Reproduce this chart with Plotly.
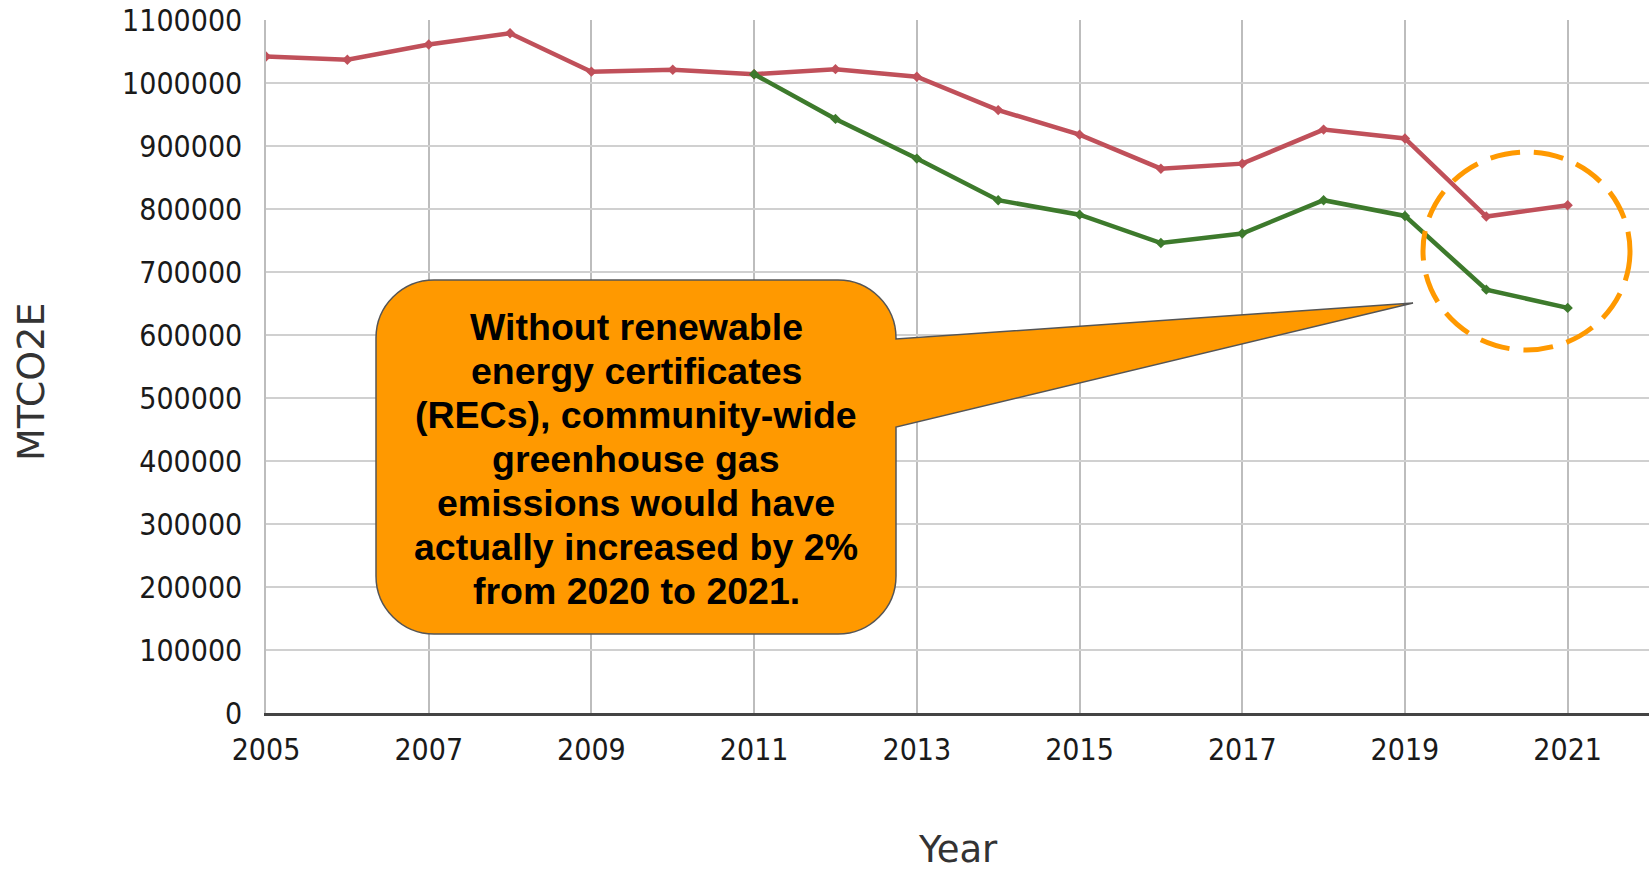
import plotly.graph_objects as go

# ---- data ----
years = list(range(2005, 2022))
with_recs = [1042000, 1037000, 1061000, 1079000, 1018000, 1021000, 1014000, 1022000,
             1010000, 957000, 918000, 864000, 872000, 926000, 912000, 788000, 806000]
without_recs = [None, None, None, None, None, None, 1014000, 943000,
                880000, 814000, 791000, 746000, 761000, 814000, 789000, 672000, 643000]
x_ticks = list(range(2005, 2022, 2))
y_ticks = list(range(0, 1100001, 100000))
callout_lines = ["Without renewable", "energy certificates", "(RECs), community-wide",
                 "greenhouse gas", "emissions would have", "actually increased by 2%",
                 "from 2020 to 2021."]

W, H = 1652, 873
L, R, T, B = 266, 1649, 20, 713
TICKFONT = "DejaVu Sans Condensed, DejaVu Sans"


def xp(px):
    return (px - L) / (R - L)


def yp(py):
    return (B - py) / (B - T)


fig = go.Figure()
fig.add_trace(go.Scatter(x=years, y=with_recs, mode="lines+markers",
                         line=dict(color="#c0505a", width=4.5),
                         marker=dict(size=8, color="#c0505a", symbol="diamond"),
                         showlegend=False))
fig.add_trace(go.Scatter(x=years, y=without_recs, mode="lines+markers",
                         line=dict(color="#3d7a2c", width=4.5),
                         marker=dict(size=8, color="#3d7a2c", symbol="diamond"),
                         showlegend=False))

# callout bubble with tail
bl, br, bt, bb, r = 376, 896, 280, 634, 58
k = 0.552 * r
tail_top, tail_bot, tipx, tipy = 339, 427, 1413, 303
pts = [
    ("M", [(bl + r, bt)]),
    ("L", [(br - r, bt)]),
    ("C", [(br - r + k, bt), (br, bt + r - k), (br, bt + r)]),
    ("L", [(br, tail_top)]),
    ("L", [(tipx, tipy)]),
    ("L", [(br, tail_bot)]),
    ("L", [(br, bb - r)]),
    ("C", [(br, bb - r + k), (br - r + k, bb), (br - r, bb)]),
    ("L", [(bl + r, bb)]),
    ("C", [(bl + r - k, bb), (bl, bb - r + k), (bl, bb - r)]),
    ("L", [(bl, bt + r)]),
    ("C", [(bl, bt + r - k), (bl + r - k, bt), (bl + r, bt)]),
]
path = ""
for cmd, ps in pts:
    path += cmd + " ".join(f"{xp(a):.5f},{yp(b):.5f}" for a, b in ps) + " "
path += "Z"
fig.add_shape(type="path", path=path, xref="paper", yref="paper",
              fillcolor="#ff9900", line=dict(color="#555555", width=1.5), layer="above")

# dashed highlight circle
fig.add_shape(type="circle", xref="paper", yref="paper",
              x0=xp(1423), x1=xp(1630), y0=yp(350), y1=yp(152),
              line=dict(color="#ff9900", width=5, dash="30px,14px"), layer="above")

line_y = [327, 371, 415, 459, 503, 547, 591]
for txt, py in zip(callout_lines, line_y):
    fig.add_annotation(text=f"<b>{txt}</b>", x=xp(636), y=yp(py), xref="paper", yref="paper",
                       xanchor="center", yanchor="middle", showarrow=False,
                       font=dict(family="Liberation Sans, Arial", size=37.5, color="#000000"))

fig.add_annotation(text="MTCO2E", x=xp(31), y=yp(382), xref="paper", yref="paper",
                   textangle=-90, showarrow=False, xanchor="center", yanchor="middle",
                   font=dict(family="DejaVu Sans", size=38, color="#333333"))
fig.add_annotation(text="Year", x=xp(958), y=yp(872), xref="paper", yref="paper",
                   showarrow=False, xanchor="center", yanchor="bottom", borderpad=0,
                   font=dict(family="DejaVu Sans", size=37, color="#333333"))

fig.update_layout(
    width=W, height=H,
    margin=dict(l=L, r=W - R, t=T, b=H - B, autoexpand=False),
    paper_bgcolor="white", plot_bgcolor="white",
    xaxis=dict(range=[2005, 2022], tickvals=x_ticks, ticktext=[str(v) for v in x_ticks],
               showgrid=True, gridcolor="#bdbdbd", gridwidth=1.5,
               showline=True, linecolor="#444444", linewidth=3,
               zeroline=False, ticks="", ticklabelstandoff=8,
               tickfont=dict(family=TICKFONT, size=30, color="#1a1a1a")),
    yaxis=dict(range=[0, 1100000], tickvals=y_ticks, ticktext=[str(v) for v in y_ticks],
               showgrid=True, gridcolor="#d0d0d0", gridwidth=2,
               showline=True, linecolor="#bdbdbd", linewidth=1.5,
               zeroline=False, ticks="", ticklabelstandoff=16,
               tickfont=dict(family=TICKFONT, size=30, color="#1a1a1a")),
)

fig.write_html("out.html", config={"displayModeBar": False},
               post_script="document.body.style.margin='0';")
